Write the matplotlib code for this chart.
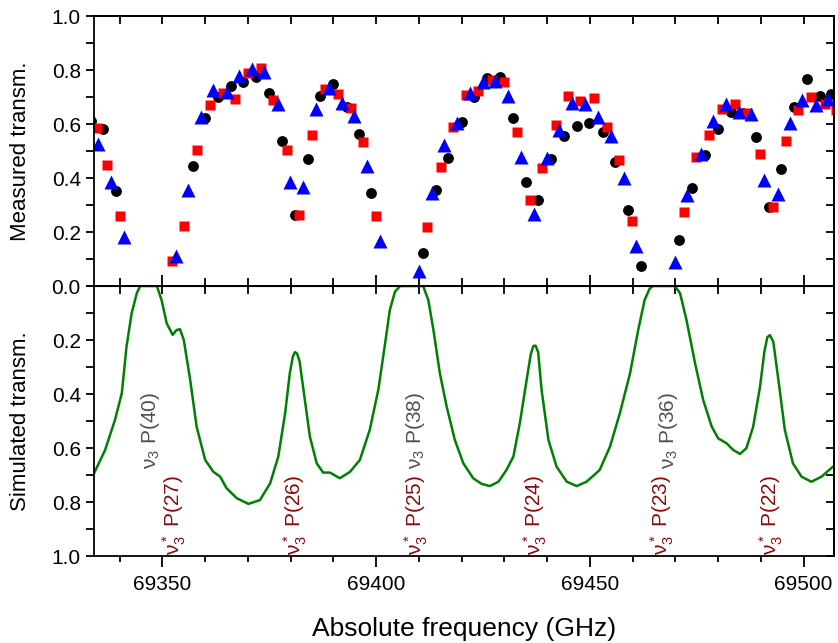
import numpy as np
import matplotlib
matplotlib.use("Agg")
import matplotlib.pyplot as plt
from matplotlib.ticker import MultipleLocator

plt.rcParams["font.family"] = ["Liberation Sans", "DejaVu Sans"]
plt.rcParams["mathtext.fontset"] = "custom"
plt.rcParams["mathtext.rm"] = "Liberation Sans"
plt.rcParams["mathtext.default"] = "regular"

# ---- measured transmission (three runs) ----
f_black = [69333.3, 69336.0, 69339.1, 69357.2, 69360.0, 69363.1, 69366.0, 69368.9,
           69372.0, 69375.0, 69378.0, 69381.0, 69384.0, 69386.9, 69390.0, 69393.1,
           69396.0, 69398.9, 69411.0, 69414.0, 69416.9, 69420.0, 69422.9, 69426.0,
           69429.0, 69431.9, 69435.0, 69437.9, 69440.9, 69443.9, 69446.9, 69449.8,
           69453.0, 69455.8, 69459.0, 69461.9, 69470.8, 69473.9, 69476.9, 69479.9,
           69482.9, 69485.8, 69488.8, 69491.9, 69494.8, 69497.8, 69500.8, 69503.8,
           69506.5]
t_black = [0.61, 0.58, 0.352, 0.446, 0.624, 0.699, 0.741, 0.756,
           0.775, 0.714, 0.537, 0.263, 0.469, 0.704, 0.747, 0.664,
           0.562, 0.346, 0.124, 0.356, 0.475, 0.609, 0.701, 0.769,
           0.773, 0.623, 0.384, 0.319, 0.47, 0.556, 0.594, 0.602,
           0.572, 0.458, 0.281, 0.075, 0.17, 0.364, 0.484, 0.581,
           0.643, 0.64, 0.552, 0.294, 0.432, 0.662, 0.765, 0.704,
           0.71]

f_red = [69334.6, 69337.0, 69340.1, 69352.2, 69355.0, 69358.0, 69361.1, 69364.1,
         69367.0, 69370.1, 69373.1, 69375.9, 69379.1, 69382.0, 69385.0, 69388.0,
         69391.0, 69394.0, 69397.0, 69400.0, 69412.0, 69415.1, 69418.0, 69421.0,
         69423.9, 69427.0, 69430.0, 69432.9, 69436.0, 69438.9, 69442.0, 69444.9,
         69447.8, 69450.9, 69453.9, 69456.9, 69459.9, 69471.9, 69474.8, 69477.9,
         69480.8, 69483.9, 69486.8, 69489.9, 69492.9, 69495.8, 69498.7, 69501.8,
         69504.9, 69507.6]
t_red = [0.584, 0.449, 0.259, 0.091, 0.223, 0.504, 0.670, 0.714,
         0.694, 0.79, 0.807, 0.69, 0.504, 0.263, 0.558, 0.73,
         0.71, 0.658, 0.535, 0.26, 0.219, 0.442, 0.589, 0.707,
         0.723, 0.763, 0.757, 0.572, 0.319, 0.438, 0.596, 0.705,
         0.686, 0.697, 0.59, 0.467, 0.242, 0.275, 0.479, 0.56,
         0.657, 0.673, 0.642, 0.489, 0.294, 0.537, 0.652, 0.701,
         0.673, 0.652]

f_blue = [69335.0, 69337.9, 69340.9, 69353.1, 69356.1, 69359.0, 69361.9, 69365.0,
          69368.0, 69371.0, 69373.8, 69377.0, 69379.8, 69383.0, 69385.9, 69389.0,
          69391.9, 69394.8, 69397.9, 69400.9, 69410.0, 69413.0, 69415.9, 69419.0,
          69421.9, 69424.9, 69427.9, 69430.9, 69433.9, 69436.9, 69439.9, 69442.8,
          69445.9, 69448.8, 69451.9, 69454.9, 69457.9, 69460.9, 69469.9, 69472.8,
          69475.9, 69478.8, 69481.8, 69484.8, 69487.8, 69490.8, 69493.9, 69496.8,
          69499.7, 69502.8, 69505.7]
t_blue = [0.526, 0.386, 0.183, 0.111, 0.356, 0.627, 0.726, 0.72,
          0.778, 0.802, 0.794, 0.673, 0.384, 0.368, 0.654, 0.734,
          0.677, 0.63, 0.446, 0.165, 0.057, 0.343, 0.522, 0.602,
          0.714, 0.757, 0.759, 0.704, 0.477, 0.266, 0.473, 0.578,
          0.677, 0.674, 0.627, 0.556, 0.399, 0.149, 0.09, 0.337,
          0.489, 0.612, 0.674, 0.646, 0.637, 0.393, 0.34, 0.603,
          0.689, 0.67, 0.691]

# ---- simulated transmission ----
f_sim = [69334.0, 69336.6, 69338.9, 69340.5, 69341.6, 69342.8, 69344.0, 69344.8,
         69348.7, 69349.8, 69351.0, 69352.4, 69353.3, 69354.1, 69355.0, 69356.5,
         69358.0, 69360.0, 69361.9, 69363.5, 69365.0, 69367.4, 69370.1, 69372.8,
         69375.2, 69377.1, 69378.7, 69379.8, 69380.5, 69381.0, 69381.5, 69382.1,
         69383.0, 69384.5, 69386.1, 69387.6, 69389.2, 69391.5, 69393.9, 69396.2,
         69398.5, 69400.5, 69402.1, 69403.2, 69404.4, 69405.6, 69411.0, 69412.2,
         69413.4, 69414.9, 69416.5, 69418.4, 69420.4, 69422.7, 69424.7, 69426.6,
         69428.6, 69430.5, 69432.1, 69433.6, 69435.2, 69436.2, 69436.8, 69437.3,
         69437.9, 69438.7, 69440.3, 69442.2, 69444.6, 69446.9, 69449.2, 69451.0,
         69452.3, 69454.7, 69457.0, 69459.4, 69461.3, 69462.8, 69464.0, 69464.8,
         69469.9, 69471.1, 69472.6, 69474.6, 69476.5, 69478.5, 69480.0, 69482.0,
         69483.5, 69485.1, 69486.6, 69488.2, 69489.8, 69490.8, 69491.5, 69492.1,
         69492.9, 69494.1, 69495.6, 69497.5, 69499.5, 69501.8, 69504.2, 69507.3]
t_sim = [0.694, 0.607, 0.496, 0.397, 0.225, 0.101, 0.027, 0.0,
         0.0, 0.052, 0.138, 0.181, 0.163, 0.160, 0.2, 0.348,
         0.521, 0.644, 0.688, 0.706, 0.749, 0.786, 0.807, 0.793,
         0.731, 0.632, 0.472, 0.323, 0.262, 0.245, 0.25, 0.28,
         0.385, 0.558, 0.657, 0.691, 0.691, 0.712, 0.688, 0.644,
         0.533, 0.385, 0.212, 0.089, 0.021, 0.0, 0.0, 0.052,
         0.163, 0.323, 0.447, 0.570, 0.657, 0.712, 0.733, 0.741,
         0.725, 0.681, 0.632, 0.509, 0.348, 0.25, 0.222, 0.221,
         0.245, 0.385, 0.57, 0.669, 0.725, 0.741, 0.725, 0.70,
         0.681, 0.595, 0.472, 0.323, 0.163, 0.052, 0.009, 0.0,
         0.0, 0.027, 0.126, 0.286, 0.422, 0.521, 0.564, 0.583,
         0.607, 0.622, 0.601, 0.521, 0.373, 0.245, 0.19, 0.182,
         0.206, 0.348, 0.533, 0.657, 0.706, 0.725, 0.706, 0.663]

# ---- line assignments ----
main_labels = [r"ν$_3$ P(40)", r"ν$_3$ P(38)", r"ν$_3$ P(36)"]
main_pos = [69347.3, 69409.1, 69468.3]
hot_labels = [r"ν$_3^*$ P(27)", r"ν$_3^*$ P(26)", r"ν$_3^*$ P(25)",
              r"ν$_3^*$ P(24)", r"ν$_3^*$ P(23)", r"ν$_3^*$ P(22)"]
hot_pos = [69352.7, 69381.0, 69409.5, 69437.3, 69466.9, 69492.5]

xmin, xmax = 69334.0, 69507.1

fig = plt.figure(figsize=(8.38, 6.43), dpi=100)
ax1 = fig.add_axes([0.1122, 0.5552, 0.8830, 0.4199])
ax2 = fig.add_axes([0.1122, 0.1353, 0.8830, 0.4199], sharex=ax1)

ax1.plot(f_black, t_black, "o", color="black", ms=7.8, mec="none")
ax1.plot(f_red, t_red, "s", color="#ff0000", ms=7.2, mec="none")
ax1.plot(f_blue, t_blue, "^", color="#0000ff", ms=9.5, mec="none")
ax1.set_ylim(0, 1.0)

ax2.plot(f_sim, t_sim, color="#008000", lw=1.8)
ax2.set_ylim(1.0, 0)

for x, s in zip(main_pos, main_labels):
    ax2.text(x, 0.537, s, rotation=90, ha="center", va="center",
             color="#505050", fontsize=15)
for x, s in zip(hot_pos, hot_labels):
    ax2.text(x, 0.848, s, rotation=90, ha="center", va="center",
             color="#8b0a0a", fontsize=15)

ax1.set_xlim(xmin, xmax)
for ax in (ax1, ax2):
    for sp in ax.spines.values():
        sp.set_linewidth(1.3)
    ax.xaxis.set_major_locator(MultipleLocator(50))
    ax.xaxis.set_minor_locator(MultipleLocator(10))
    ax.yaxis.set_major_locator(MultipleLocator(0.2))
    ax.yaxis.set_minor_locator(MultipleLocator(0.1))
    ax.tick_params(axis="y", which="both", direction="out", labelsize=15,
                   width=1.3, length=6)
    ax.tick_params(axis="x", which="both", width=1.3, labelsize=15)
    # mirrored ticks on the right side, pointing inward
    sec_y = ax.secondary_yaxis("right")
    sec_y.yaxis.set_major_locator(MultipleLocator(0.2))
    sec_y.yaxis.set_minor_locator(MultipleLocator(0.1))
    sec_y.tick_params(which="both", direction="in", length=6, width=1.3,
                      labelright=False)
    sec_y.spines["right"].set_linewidth(1.3)

ax1.tick_params(axis="x", which="both", direction="in", labelbottom=False,
                length=6)
ax1.tick_params(axis="x", which="major", length=8)
sec_x = ax1.secondary_xaxis("top")
sec_x.xaxis.set_major_locator(MultipleLocator(50))
sec_x.xaxis.set_minor_locator(MultipleLocator(10))
sec_x.tick_params(which="both", direction="in", length=6, width=1.3,
                  labeltop=False)
sec_x.spines["top"].set_linewidth(1.3)

ax2.tick_params(axis="x", which="both", direction="out", length=4, pad=6)
ax2.tick_params(axis="x", which="major", length=8)
sec_x2 = ax2.secondary_xaxis("top")
sec_x2.xaxis.set_major_locator(MultipleLocator(50))
sec_x2.xaxis.set_minor_locator(MultipleLocator(10))
sec_x2.tick_params(which="both", direction="in", length=6, width=1.3,
                   labeltop=False)
ax2.set_yticks([0.2, 0.4, 0.6, 0.8, 1.0])
ax2.set_yticklabels(["0.2", "0.4", "0.6", "0.8", "1.0"])

ax1.set_ylabel("Measured transm.", fontsize=16, labelpad=6)
ax2.set_ylabel("Simulated transm.", fontsize=16, labelpad=6)
ax2.set_xlabel("Absolute frequency (GHz)", fontsize=19, labelpad=16)
ax1.yaxis.set_label_coords(-0.085, 0.5)
ax2.yaxis.set_label_coords(-0.085, 0.5)

fig.savefig("out.png", dpi=100, facecolor="white")
